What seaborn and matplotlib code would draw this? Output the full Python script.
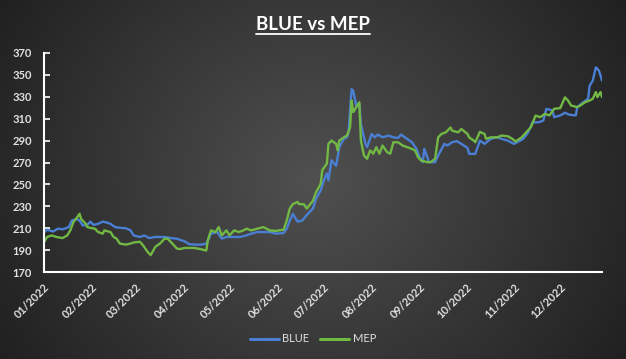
"""
BLUE vs MEP exchange rate, 2022.
"""
import matplotlib
matplotlib.use("Agg")
import matplotlib.pyplot as plt
from matplotlib.lines import Line2D
import seaborn as sns
import pandas as pd
import numpy as np

START = pd.Timestamp("2022-01-03")
END = pd.Timestamp("2022-12-30")

# days since START
blue_days = [0, 2, 6, 9, 12, 16, 18, 21, 23, 25, 28, 30, 32, 35, 38, 41, 43, 46, 49, 53,
             56, 58, 62, 65, 68, 72, 75, 78, 82, 86, 88, 91, 94, 98, 101, 105, 108, 112, 115, 118,
             123, 127, 131, 134, 138, 142, 146, 150, 155, 157, 159, 161, 164, 167, 170, 174, 176, 179, 181, 183,
             184, 186, 189, 190, 191, 194, 196, 197, 199, 200, 202, 204, 205, 208, 209, 212, 214, 216, 219, 223,
             226, 229, 231, 234, 238, 241, 243, 245, 246, 248, 249, 253, 255, 259, 261, 264, 267, 270, 274, 275,
             279, 282, 285, 289, 293, 296, 300, 304, 307, 310, 313, 316, 320, 323, 325, 329, 330, 334, 337, 340,
             344, 345, 349, 352, 353, 355, 357, 359, 361]
blue_vals = [206.5, 208.6, 207, 209.6, 209, 211, 217, 218.5, 217, 212.5, 213, 216, 213, 214, 216, 215, 214, 211, 210.4, 210,
             208, 203.4, 202, 203.4, 201, 202, 202, 202, 201, 200.4, 199.4, 198, 195.4, 195, 195, 195.8, 205, 206.5, 200.5, 202,
             202, 202, 203.5, 205, 206.5, 206.5, 206.5, 205, 205.6, 209.6, 217, 223, 216, 217, 222, 228, 237, 244.5, 253.6, 260,
             253.6, 272, 267, 275, 284, 291.6, 293, 297.6, 337, 335.6, 322, 323.4, 305, 287, 284, 296, 293, 295.5, 293, 294.6,
             293, 292.4, 295.5, 292.4, 288.5, 282.4, 274.8, 270.3, 282.4, 274.8, 270.3, 270.3, 276.4, 287, 285.5, 288.5, 289.5, 287, 283.3, 277.9,
             277.9, 290, 287, 291.6, 293, 291.6, 290, 287, 289.2, 291.6, 297, 306.7, 306.7, 308.3, 319, 317.5, 311.4, 313, 315.4, 313.6,
             313, 320.6, 325.1, 328.2, 340.2, 344.8, 356.9, 353.9, 344.8]

mep_days = [0, 2, 5, 8, 12, 15, 17, 19, 21, 23, 24, 27, 28, 31, 33, 35, 38, 39, 43, 45,
            47, 49, 53, 56, 58, 62, 64, 67, 69, 72, 75, 78, 80, 83, 86, 88, 91, 97, 101, 105,
            106, 108, 111, 113, 115, 118, 120, 123, 126, 129, 131, 134, 138, 142, 146, 150, 155, 157, 159, 161,
            164, 165, 168, 170, 174, 176, 179, 180, 183, 184, 186, 189, 190, 191, 194, 196, 198, 199, 200, 202,
            204, 205, 207, 209, 211, 213, 215, 217, 219, 222, 224, 226, 229, 232, 235, 238, 240, 242, 244, 248,
            250, 253, 255, 257, 260, 263, 264, 268, 270, 274, 275, 278, 279, 282, 285, 286, 289, 293, 296, 300,
            303, 305, 309, 312, 315, 318, 321, 324, 327, 330, 334, 337, 339, 341, 345, 347, 350, 353, 355, 357,
            358, 360, 361]
mep_vals = [197.3, 202, 203.4, 202, 201, 203.4, 208, 215.5, 219, 223.2, 218.5, 214, 211, 210, 209.6, 206.5, 205, 208, 206.5, 202,
            200.4, 196, 195, 196, 197, 197.6, 194.5, 188.4, 185.4, 193, 196, 200.4, 200.4, 196, 191.4, 191, 192, 192, 191, 189.6,
            199, 208, 206.5, 211, 203.5, 208, 203.5, 208, 206.5, 208, 209.6, 208, 209.6, 211, 208, 207.5, 208.7, 217, 228, 232,
            234, 232, 232, 228, 235, 243, 250.5, 263, 269, 287, 290, 287, 281, 290, 293, 294.6, 302, 326.6, 316, 320.5,
            325, 290, 276.4, 273.4, 281, 278, 284, 278, 285.5, 279.4, 278, 288.5, 288.5, 285.5, 284, 282.4, 281, 274.8, 271.8, 270.3,
            270.3, 273.3, 293, 296, 297.6, 302, 299, 297.6, 300.6, 296, 293, 290, 288.5, 298, 296, 291.6, 293, 293, 294.6, 294,
            291.6, 289.2, 293, 297.6, 302.2, 312.8, 311.4, 314.4, 313, 319, 319.7, 329.5, 326.6, 322, 320.6, 322, 325, 326.6, 328.2, 334.3,
            329.7, 334.3, 329.7]

y_ticks = list(range(170, 371, 20))
COLORS = {"BLUE": "#4a7fd4", "MEP": "#72b845"}

df = pd.concat([
    pd.DataFrame({"fecha": START + pd.to_timedelta(blue_days, unit="D"),
                  "valor": blue_vals, "serie": "BLUE"}),
    pd.DataFrame({"fecha": START + pd.to_timedelta(mep_days, unit="D"),
                  "valor": mep_vals, "serie": "MEP"}),
], ignore_index=True)

sns.set_theme(style="dark")
plt.rcParams["font.family"] = ["Lato", "DejaVu Sans"]

fig = plt.figure(figsize=(6.26, 3.59), dpi=100)

# radial dark background
yy, xx = np.mgrid[0:1:359j, 0:1:626j]
r = np.sqrt(((xx - 0.5) / 0.55) ** 2 + ((yy - 0.5) / 0.9) ** 2)
shade = (80 - 45 * np.clip(r, 0, 1.2)) / 255.0
bg = fig.add_axes([0, 0, 1, 1], zorder=0)
bg.imshow(np.dstack([shade] * 3), aspect="auto", extent=[0, 1, 0, 1])
bg.axis("off")

ax = fig.add_axes([0.0703, 0.2423, 0.8914, 0.6101], zorder=1)
ax.set_facecolor("none")

sns.lineplot(data=df, x="fecha", y="valor", hue="serie", palette=COLORS,
             estimator=None, sort=False, linewidth=1.7, legend=False, ax=ax)

ax.set_xlim(START, END)
ax.set_ylim(170, 370)
ax.set_yticks(y_ticks)
ax.set_xlabel("")
ax.set_ylabel("")
ax.grid(False)

ticks = pd.date_range(START, periods=12, freq=pd.DateOffset(months=1))
ax.set_xticks(ticks)
ax.set_xticklabels([t.strftime("%m/%Y") for t in ticks], rotation=45,
                   ha="right", rotation_mode="anchor")

for side in ["top", "right"]:
    ax.spines[side].set_visible(False)
for side in ["left", "bottom"]:
    ax.spines[side].set_color("white")
    ax.spines[side].set_linewidth(1.5)

ax.tick_params(axis="y", direction="in", length=4, width=1.2, color="white",
               labelcolor="#e0e0e0", labelsize=8, pad=8.5, left=True)
ax.tick_params(axis="x", length=0, labelcolor="#e0e0e0", labelsize=8, pad=7)
for lab in ax.get_yticklabels() + ax.get_xticklabels():
    lab.set_fontweight("bold")

handles = [Line2D([0], [0], color=COLORS[k], lw=2.2) for k in COLORS]
fig.legend(handles, list(COLORS), loc="center", bbox_to_anchor=(0.5, 0.056),
           ncol=2, frameon=False, fontsize=8, labelcolor="#e0e0e0",
           handlelength=2.6, handletextpad=0.3, columnspacing=1.0)

title = fig.text(0.5, 1 - 24 / 359, "BLUE vs MEP", ha="center", va="center",
                 fontsize=13.5, fontweight="bold", color="white")
fig.canvas.draw()
bb = title.get_window_extent().transformed(fig.transFigure.inverted())
fig.add_artist(Line2D([bb.x0, bb.x1], [bb.y0 - 0.004, bb.y0 - 0.004],
                      color="white", lw=1.3, transform=fig.transFigure))

fig.savefig("out.png", dpi=100)
plt.close(fig)
